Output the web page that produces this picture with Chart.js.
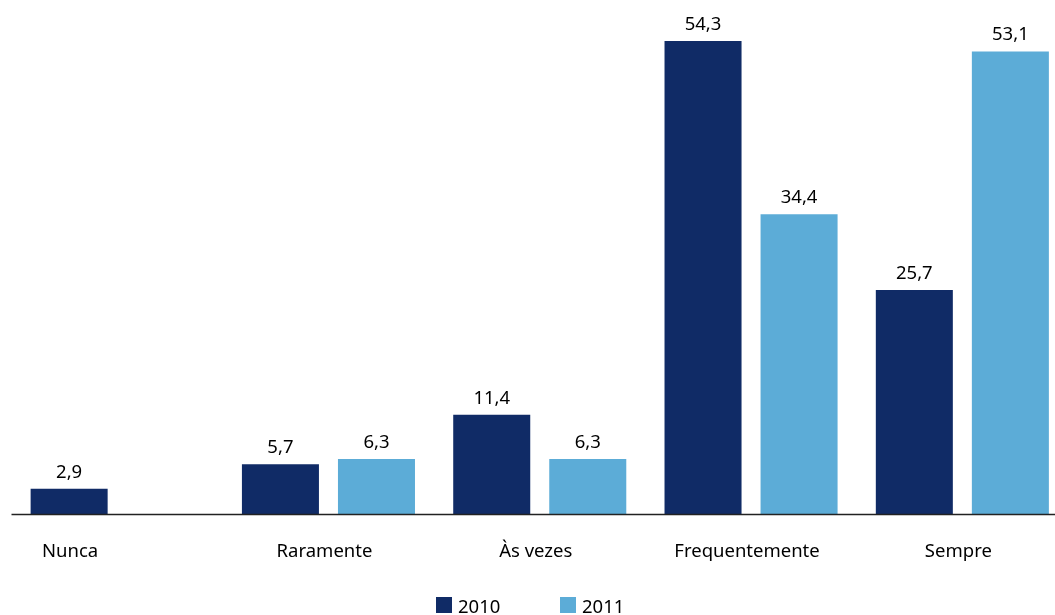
<!DOCTYPE html>
<html>
<head>
<meta charset="utf-8">
<script src="https://cdn.jsdelivr.net/npm/chart.js@4"></script>
<style>
  html, body { margin: 0; padding: 0; background: #fff; overflow: hidden; }
  #wrap { position: relative; width: 1070px; height: 615px; }
</style>
</head>
<body>
<div id="wrap"><canvas id="chart" width="1070" height="615"></canvas></div>
<script>
// categories and values
const categories = ["Nunca", "Raramente", "Às vezes", "Frequentemente", "Sempre"];
const values2010 = [2.9, 5.7, 11.4, 54.3, 25.7];
const values2011 = [null, 6.3, 6.3, 34.4, 53.1];
const seriesLabels = ["2010", "2011"];

const COLORS = ["#102B66", "#5CACD7"];
const FONT = "18.5px 'Noto Sans', 'Open Sans', sans-serif";

function fmt(v) {
  return v.toFixed(1).replace(".", ",");
}

// draws value labels, category labels, baseline and legend
const decorations = {
  id: "decorations",
  afterDatasetsDraw(chart) {
    const ctx = chart.ctx;
    const area = chart.chartArea;
    const xScale = chart.scales.x;
    ctx.save();
    ctx.font = FONT;
    ctx.fillStyle = "#000";
    ctx.textAlign = "center";

    // value labels above bars
    chart.data.datasets.forEach((ds, i) => {
      chart.getDatasetMeta(i).data.forEach((bar, j) => {
        if (ds.data[j] == null) return;
        ctx.textBaseline = "alphabetic";
        ctx.fillText(fmt(ds.data[j]), bar.x, bar.y - 11);
      });
    });

    // baseline
    ctx.strokeStyle = "#222";
    ctx.lineWidth = 1.5;
    ctx.beginPath();
    ctx.moveTo(area.left, area.bottom + 0.5);
    ctx.lineTo(area.right, area.bottom + 0.5);
    ctx.stroke();

    // category labels: under the single bar when only one series has data
    const meta0 = chart.getDatasetMeta(0);
    categories.forEach((c, j) => {
      let x = xScale.getPixelForValue(j) - 4;
      if (values2011[j] == null) x = meta0.data[j].x + 1;
      ctx.fillText(c, x, 557);
    });

    // legend
    const legendX = [436, 560];
    ctx.textAlign = "left";
    seriesLabels.forEach((lbl, i) => {
      ctx.fillStyle = COLORS[i];
      ctx.fillRect(legendX[i], 597, 16, 16);
      ctx.fillStyle = "#000";
      ctx.fillText(lbl, legendX[i] + 22, 613);
    });
    ctx.restore();
  }
};

new Chart(document.getElementById("chart"), {
  type: "bar",
  data: {
    labels: categories,
    datasets: [
      { label: seriesLabels[0], data: values2010, backgroundColor: COLORS[0] },
      { label: seriesLabels[1], data: values2011, backgroundColor: COLORS[1] },
    ],
  },
  options: {
    responsive: false,
    animation: false,
    events: [],
    categoryPercentage: 0.909,
    barPercentage: 0.802,
    layout: { padding: { left: 11.5, right: 2, top: 0, bottom: 101 } },
    plugins: { legend: { display: false }, tooltip: { enabled: false } },
    scales: {
      x: { display: false, grid: { display: false } },
      y: { display: false, min: 0, max: 59.0 },
    },
  },
  plugins: [decorations],
});
</script>
</body>
</html>
